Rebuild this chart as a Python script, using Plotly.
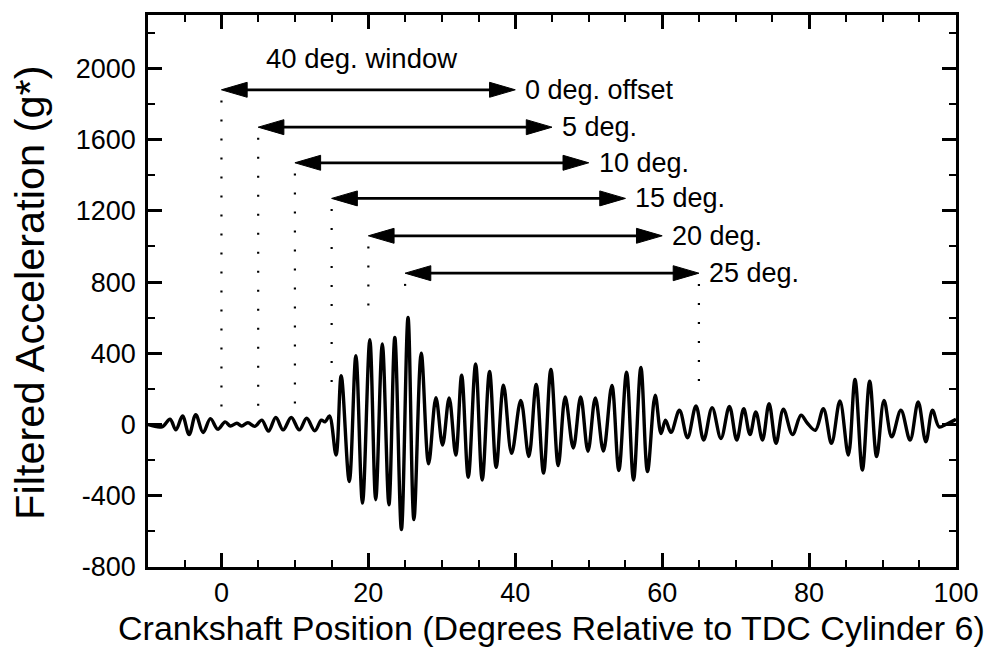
import plotly.graph_objects as go

# ---- data ----
crank_deg = [-10, -8.1, -7.0, -6.2, -5.3, -4.4, -3.5, -2.5, -1.5, -0.5, 0.5, 1.2, 2.1, 2.75, 3.6, 4.55,
             5.5, 6.4, 7.4, 8.4, 9.5, 10.6, 11.6, 12.7, 13.6, 14.1, 14.7, 15.6, 16.3, 17.4, 18.3, 19.2,
             20.2, 21.0, 21.9, 22.8, 23.6, 24.5, 25.4, 26.2, 27.2, 28.2, 29.2, 30.1, 31.0, 31.9, 32.7,
             33.6, 34.6, 35.5, 36.5, 37.4, 38.4, 39.5, 40.75, 41.85, 42.85, 43.85, 44.85, 45.85, 46.8,
             47.9, 48.9, 49.9, 50.9, 52.0, 53.15, 54.1, 55.15, 56.1, 57.1, 58.0, 59.05, 59.85, 60.45,
             61.2, 62.35, 63.45, 64.6, 65.65, 66.8, 68.0, 69.15, 70.15, 71.1, 71.95, 72.75, 73.65, 74.55,
             75.5, 76.5, 77.75, 78.9, 79.8, 80.85, 81.95, 83.05, 84.2, 85.35, 86.25, 87.25, 88.25, 89.2,
             90.2, 91.25, 92.5, 93.75, 94.85, 95.9, 96.8, 97.7, 98.6, 100]
accel_g = [0, -13, 30, -30, 48, -56, 56, -45, 33, -26, 15, -8, 7, -8, 10, -10,
           25, -37, 40, -30, 40, -30, 35, -35, 25, 15, 48, -171, 275, -320, 387, -441,
           476, -422, 452, -450, 489, -590, 601, -534, 400, -220, 151, -115, 149, -171, 277,
           -296, 340, -311, 298, -240, 221, -162, 136, -180, 225, -273, 310, -230, 155,
           -132, 155, -150, 149, -149, 220, -258, 294, -311, 320, -264, 165, -50, 24,
           -44, 80, -74, 104, -87, 95, -78, 102, -87, 89, -56, 71, -87, 117,
           -106, 86, -56, 52, 6, -32, 89, -106, 132, -171, 253, -255, 244, -180,
           136, -69, 80, -87, 127, -97, 80, -13, 0, 30]

offsets = [0, 5, 10, 15, 20, 25]
window = 40
arrow_y = [1880, 1670, 1470, 1270, 1060, 850]
offset_labels = ["0 deg. offset", "5 deg.", "10 deg.", "15 deg.", "20 deg.", "25 deg."]
dot_bottom = [80, 70, 90, 190, 580, 700]
end_dot_bottom = 200
window_label = "40 deg. window"

x_ticks = [0, 20, 40, 60, 80, 100]
x_tick_text = ["0", "20", "40", "60", "80", "100"]
y_ticks = [-800, -400, 0, 400, 800, 1200, 1600, 2000]
y_tick_text = ["-800", "-400", "0", "400", "800", "1200", "1600", "2000"]

x_title = "Crankshaft Position (Degrees Relative to TDC Cylinder 6)"
y_title = "Filtered Acceleration (g*)"

FONT = "Liberation Sans, Arial, Helvetica, sans-serif"
HEAD_LEN = 3.5     # arrowhead length in degrees
HEAD_HALF = 42     # arrowhead half-height in g

fig = go.Figure()

fig.add_trace(go.Scatter(x=crank_deg, y=accel_g, mode="lines",
                         line=dict(color="black", width=3.4, shape="spline", smoothing=1.0),
                         showlegend=False, hoverinfo="skip"))

dot_style = dict(color="black", width=2.2, dash="2px,17px")
for o, ya, yb in zip(offsets, arrow_y, dot_bottom):
    fig.add_trace(go.Scatter(x=[o, o], y=[ya - 60, yb], mode="lines", line=dot_style,
                             showlegend=False, hoverinfo="skip"))
fig.add_trace(go.Scatter(x=[offsets[-1] + window] * 2, y=[arrow_y[-1] - 60, end_dot_bottom],
                         mode="lines", line=dot_style, showlegend=False, hoverinfo="skip"))

for o, ya, lab in zip(offsets, arrow_y, offset_labels):
    x0, x1 = o, o + window
    fig.add_trace(go.Scatter(x=[x0 + HEAD_LEN * 0.7, x1 - HEAD_LEN * 0.7], y=[ya, ya], mode="lines",
                             line=dict(color="black", width=2.8), showlegend=False, hoverinfo="skip"))
    fig.add_trace(go.Scatter(x=[x0, x0 + HEAD_LEN, x0 + HEAD_LEN, x0],
                             y=[ya, ya + HEAD_HALF, ya - HEAD_HALF, ya],
                             mode="lines", fill="toself", fillcolor="black",
                             line=dict(color="black", width=1), showlegend=False, hoverinfo="skip"))
    fig.add_trace(go.Scatter(x=[x1, x1 - HEAD_LEN, x1 - HEAD_LEN, x1],
                             y=[ya, ya + HEAD_HALF, ya - HEAD_HALF, ya],
                             mode="lines", fill="toself", fillcolor="black",
                             line=dict(color="black", width=1), showlegend=False, hoverinfo="skip"))
    fig.add_annotation(x=x1, y=ya, text=lab, showarrow=False, xanchor="left", yanchor="middle",
                       xshift=8, font=dict(family=FONT, size=27, color="black"))

fig.add_annotation(x=offsets[0] + window / 2, y=arrow_y[0], text=window_label, showarrow=False,
                   xanchor="center", yanchor="middle", xshift=-7, yshift=31,
                   font=dict(family=FONT, size=27.5, color="black"))

# axis titles
fig.add_annotation(xref="paper", yref="paper", x=0.499, y=-0.110, text=x_title, showarrow=False,
                   xanchor="center", yanchor="middle", font=dict(family=FONT, size=34, color="black"))
fig.add_annotation(xref="paper", yref="paper", x=-0.147, y=0.497, text=y_title, showarrow=False,
                   textangle=-90, xanchor="center", yanchor="middle",
                   font=dict(family=FONT, size=41.5, color="black"))

axis_common = dict(showline=True, linecolor="black", linewidth=2.5, mirror="allticks",
                   ticks="inside", tickcolor="black", tickwidth=2.5, ticklen=14,
                   showgrid=False, zeroline=False,
                   tickfont=dict(family=FONT, size=27, color="black"))

fig.update_xaxes(range=[-10, 100], tickvals=x_ticks, ticktext=x_tick_text,
                 minor=dict(tick0=0, dtick=5, ticks="inside", ticklen=7, tickwidth=2, tickcolor="black"),
                 ticklabelstandoff=0,
                 **axis_common)
fig.update_yaxes(range=[-800, 2300], tickvals=y_ticks, ticktext=y_tick_text,
                 minor=dict(tick0=0, dtick=200, ticks="inside", ticklen=7, tickwidth=2, tickcolor="black"),
                 ticklabelstandoff=4,
                 **axis_common)

fig.update_layout(width=991, height=664, margin=dict(l=148, r=34, t=12, b=97),
                  plot_bgcolor="white", paper_bgcolor="white", showlegend=False)

fig.write_html("out.html")
